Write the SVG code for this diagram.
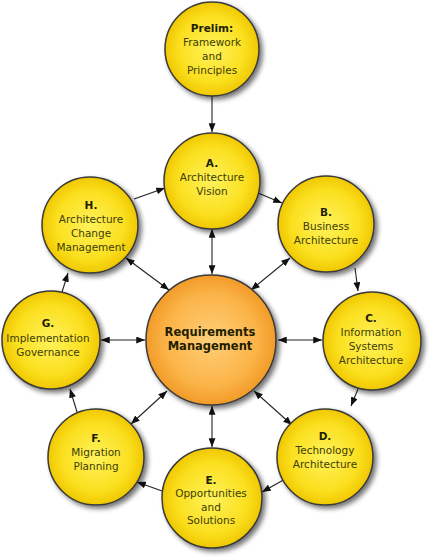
<svg xmlns="http://www.w3.org/2000/svg" width="429" height="559" viewBox="0 0 429 559">
<style>
.y{fill:url(#gy);stroke:#3a3a3a;stroke-width:1.5;filter:url(#sh)}
.o{fill:url(#go);stroke:#3a3a3a;stroke-width:1.5;filter:url(#sh)}
text{font-family:"DejaVu Sans",Verdana,sans-serif;font-size:10.5px;fill:#3d3d05;text-anchor:middle}
.b{font-weight:bold;fill:#1e1e00}
.rm{font-weight:bold;font-size:11.5px;fill:#1e1e00}
.c line{stroke:#222;stroke-width:1.1}
.s line{marker-end:url(#ah)}
.d line{marker-start:url(#as);marker-end:url(#ah)}
</style>
<defs>
<radialGradient id="gy" cx="0.5" cy="0.5" r="0.5">
<stop offset="0" stop-color="#fff25a"/>
<stop offset="0.7" stop-color="#fbe020"/>
<stop offset="1" stop-color="#f0c800"/>
</radialGradient>
<radialGradient id="go" cx="0.5" cy="0.5" r="0.5">
<stop offset="0" stop-color="#ffcf7a"/>
<stop offset="0.7" stop-color="#fbb448"/>
<stop offset="1" stop-color="#f29b28"/>
</radialGradient>
<filter id="sh" x="-20%" y="-20%" width="150%" height="150%">
<feGaussianBlur in="SourceAlpha" stdDeviation="2.5"/>
<feOffset dx="3" dy="3" result="b"/>
<feComponentTransfer><feFuncA type="linear" slope="0.55"/></feComponentTransfer>
<feMerge><feMergeNode/><feMergeNode in="SourceGraphic"/></feMerge>
</filter>
<marker id="ah" viewBox="0 0 10 8" refX="10" refY="4" markerWidth="9" markerHeight="7" markerUnits="userSpaceOnUse" orient="auto">
<path d="M0,0 L10,4 L0,8 Z" fill="#111"/>
</marker>
<marker id="as" viewBox="0 0 10 8" refX="0" refY="4" markerWidth="9" markerHeight="7" markerUnits="userSpaceOnUse" orient="auto">
<path d="M10,0 L0,4 L10,8 Z" fill="#111"/>
</marker>
</defs>
<g id="connectors" class="c">
<g class="s">
<line x1="212" y1="96" x2="212" y2="132"/>
<line x1="258" y1="193" x2="282" y2="203"/>
<line x1="355" y1="268" x2="358" y2="291"/>
<line x1="358" y1="389" x2="351" y2="406"/>
<line x1="287" y1="478" x2="262" y2="492"/>
<line x1="162" y1="491" x2="137" y2="482"/>
<line x1="77" y1="412" x2="70" y2="389"/>
<line x1="62" y1="292" x2="68" y2="273"/>
<line x1="134" y1="199" x2="165" y2="188"/>
</g>
<g class="d">
<line x1="212" y1="229" x2="212" y2="274"/>
<line x1="290" y1="258" x2="251" y2="290"/>
<line x1="322" y1="340" x2="278" y2="340"/>
<line x1="292" y1="425" x2="254" y2="391"/>
<line x1="212" y1="406" x2="212" y2="447"/>
<line x1="131" y1="424" x2="167" y2="391"/>
<line x1="101" y1="340" x2="145" y2="340"/>
<line x1="126" y1="258" x2="169" y2="290"/>
</g>
</g>
<g id="prelim">
<circle class="y" cx="212" cy="49" r="47"/>
<text x="212" y="32" class="b">Prelim:</text>
<text x="212" y="46">Framework</text>
<text x="212" y="60">and</text>
<text x="212" y="74">Principles</text>
</g>
<g id="a">
<circle class="y" cx="212" cy="181" r="48"/>
<text x="212" y="167" class="b">A.</text>
<text x="212" y="181">Architecture</text>
<text x="212" y="195">Vision</text>
</g>
<g id="b">
<circle class="y" cx="326" cy="224" r="48"/>
<text x="326" y="216" class="b">B.</text>
<text x="326" y="230">Business</text>
<text x="326" y="244">Architecture</text>
</g>
<g id="c">
<circle class="y" cx="372" cy="341" r="49"/>
<text x="371" y="322" class="b">C.</text>
<text x="371" y="336">Information</text>
<text x="371" y="350">Systems</text>
<text x="371" y="364">Architecture</text>
</g>
<g id="d">
<circle class="y" cx="325" cy="457" r="48"/>
<text x="325" y="440" class="b">D.</text>
<text x="325" y="454">Technology</text>
<text x="325" y="468">Architecture</text>
</g>
<g id="e">
<circle class="y" cx="212" cy="498" r="50"/>
<text x="211" y="484" class="b">E.</text>
<text x="211" y="497">Opportunities</text>
<text x="211" y="511">and</text>
<text x="211" y="524">Solutions</text>
</g>
<g id="f">
<circle class="y" cx="96" cy="457" r="48"/>
<text x="96" y="442" class="b">F.</text>
<text x="96" y="456">Migration</text>
<text x="96" y="470">Planning</text>
</g>
<g id="g">
<circle class="y" cx="51" cy="340" r="49"/>
<text x="48" y="327" class="b">G.</text>
<text x="48" y="342">Implementation</text>
<text x="48" y="356">Governance</text>
</g>
<g id="h">
<circle class="y" cx="90" cy="225" r="48"/>
<text x="91" y="209" class="b">H.</text>
<text x="91" y="223">Architecture</text>
<text x="91" y="237">Change</text>
<text x="91" y="251">Management</text>
</g>
<g id="rm">
<circle class="o" cx="211" cy="340" r="65"/>
<text x="210" y="336" class="rm">Requirements</text>
<text x="210" y="350" class="rm">Management</text>
</g>
</svg>
